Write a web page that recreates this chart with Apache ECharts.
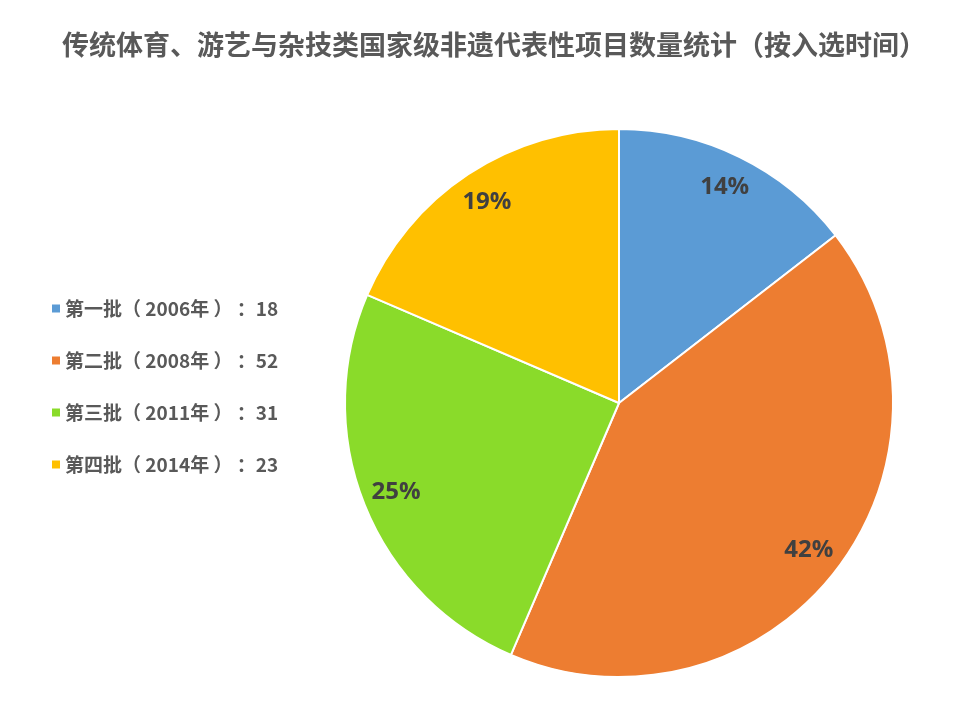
<!DOCTYPE html>
<html>
<head>
<meta charset="UTF-8">
<title></title>
<script src="https://cdn.jsdelivr.net/npm/echarts@6/dist/echarts.min.js"></script>
</head>
<body style="margin:0;background:#fff;">
<div id="main" style="width:958px;height:726px;"></div>
<script type="text/javascript">
// 数据
var batchNames = ['第一批（2006年）', '第二批（2008年）', '第三批（2011年）', '第四批（2014年）'];
var batchCounts = [18, 52, 31, 23];
var sliceColors = ['#5B9BD5', '#ED7D31', '#8ADB2A', '#FFC000'];

var pieData = [];
for (var i = 0; i < batchNames.length; i++) {
    pieData.push({ name: batchNames[i], value: batchCounts[i] });
}

var myChart = echarts.init(document.getElementById('main'));
var option = {
    backgroundColor: '#fff',
    color: sliceColors,
    animation: false,
    title: {
        text: '传统体育、游艺与杂技类国家级非遗代表性项目数量统计（按入选时间）',
        left: 57,
        top: 26,
        textStyle: {
            fontFamily: 'Noto Sans CJK SC',
            fontSize: 27,
            fontWeight: 'bold',
            color: '#595959'
        }
    },
    legend: {
        orient: 'vertical',
        left: 45,
        top: 294,
        icon: 'rect',
        itemWidth: 10,
        itemHeight: 10,
        itemGap: 33,
        formatter: function (name) {
            var idx = batchNames.indexOf(name);
            return name.replace('（', '（ ').replace('）', ' ）') + ' ：' + batchCounts[idx];
        },
        textStyle: {
            fontFamily: 'Noto Sans CJK SC',
            fontSize: 19,
            fontWeight: 'bold',
            color: '#595959',
            padding: [0, 0, 0, -1]
        }
    },
    series: [{
        type: 'pie',
        center: [619, 403],
        radius: [0, 274],
        startAngle: 90,
        clockwise: true,
        data: pieData,
        label: { show: false },
        labelLine: { show: false },
        itemStyle: { borderColor: '#fff', borderWidth: 2 },
        emphasis: { disabled: true }
    }, {
        // 标签层
        type: 'pie',
        center: [619, 403],
        radius: [200, 274],
        startAngle: 90,
        clockwise: true,
        silent: true,
        legendHoverLink: false,
        percentPrecision: 0,
        data: pieData,
        itemStyle: { color: 'rgba(0,0,0,0)' },
        label: {
            show: true,
            position: 'inside',
            formatter: '{d}%',
            fontFamily: 'Open Sans',
            fontSize: 24,
            fontWeight: 'bold',
            color: '#404040'
        },
        labelLine: { show: false },
        emphasis: { disabled: true }
    }]
};
myChart.setOption(option);
</script>
</body>
</html>
